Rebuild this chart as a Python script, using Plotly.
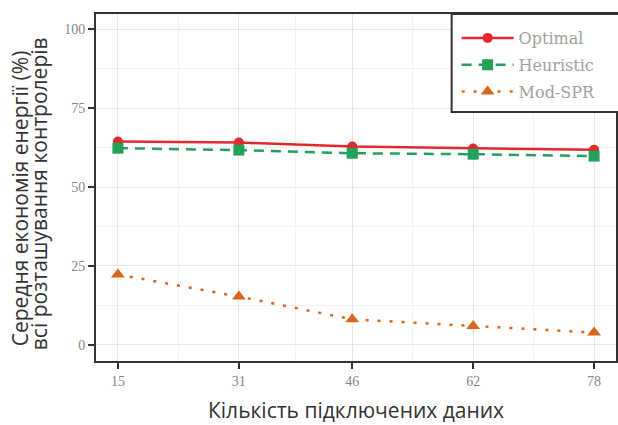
import plotly.graph_objects as go

x_vals = [15, 31, 46, 62, 78]
optimal = [64.4, 64.1, 62.8, 62.2, 61.8]
heuristic = [62.3, 61.7, 60.7, 60.4, 59.8]
mod_spr = [22.3, 15.3, 8.1, 6.0, 3.9]
y_ticks = [0, 25, 50, 75, 100]

x_title = "Кількість підключених даних"
y_title_1 = "Середня економія енергії (%)"
y_title_2 = "всі розташування контролерів"

W, H = 618, 425
L, R, T, B = 96, 0, 14, 64
PW, PH = W - L - R, H - T - B


def px_x(p):
    return (p - L) / PW


def px_y(p):
    return ((H - B) - p) / PH


fig = go.Figure()
fig.add_trace(go.Scatter(x=x_vals, y=optimal, name="Optimal", mode="lines+markers",
                         legendgroup="a",
                         line=dict(color="#e3292d", width=2.5),
                         marker=dict(symbol="circle", size=10, color="#e3292d")))
fig.add_trace(go.Scatter(x=x_vals, y=heuristic, name="Heuristic", mode="lines+markers",
                         legendgroup="b",
                         line=dict(color="#23a05a", width=2.5, dash="10px,7px"),
                         marker=dict(symbol="square", size=11, color="#23a05a")))
fig.add_trace(go.Scatter(x=x_vals, y=mod_spr, name="Mod-SPR", mode="lines+markers",
                         legendgroup="c",
                         line=dict(color="#d9661a", width=2.5, dash="3px,9px"),
                         marker=dict(symbol="triangle-up", size=12, color="#d9661a")))

tick_font = dict(family="Liberation Serif", size=14, color="#858585")

fig.update_layout(
    width=W, height=H,
    margin=dict(l=L, r=R, t=T, b=B),
    paper_bgcolor="white", plot_bgcolor="white",
    showlegend=True,
    legend=dict(x=px_x(458), y=px_y(21), xanchor="left", yanchor="top",
                bgcolor="rgba(0,0,0,0)", borderwidth=0,
                font=dict(family="DejaVu Serif", size=16, color="#a0a0a0"),
                itemwidth=52, tracegroupgap=3),
    xaxis=dict(range=[12.1, 80.9], tickmode="array", tickvals=x_vals,
               ticktext=[str(v) for v in x_vals],
               showgrid=True, gridcolor="#e6e6e6", gridwidth=1,
               minor=dict(tickmode="array", tickvals=[23, 38.5, 54, 70], showgrid=True,
                          gridcolor="#f2f2f2", gridwidth=1, ticks=""),
               showline=True, linecolor="#333333", linewidth=2, mirror=True,
               ticks="outside", ticklen=6, tickwidth=1.5, tickcolor="#333333",
               tickfont=tick_font, zeroline=False),
    yaxis=dict(range=[-5.1, 104.8], tickmode="array", tickvals=y_ticks,
               showgrid=True, gridcolor="#e6e6e6", gridwidth=1,
               minor=dict(tickmode="array", tickvals=[12.5, 37.5, 62.5, 87.5], showgrid=True,
                          gridcolor="#f2f2f2", gridwidth=1, ticks=""),
               showline=True, linecolor="#333333", linewidth=2, mirror=True,
               ticks="outside", ticklen=6, tickwidth=1.5, tickcolor="#333333",
               tickfont=tick_font, zeroline=False),
    shapes=[dict(type="rect", xref="paper", yref="paper",
                 x0=px_x(453), x1=px_x(630), y0=px_y(112), y1=1,
                 line=dict(color="#333333", width=2), fillcolor="white", layer="above")],
)

title_font = dict(family="Open Sans", size=21, color="#333333")
fig.add_annotation(text=x_title, xref="paper", yref="paper",
                   x=0.5, y=px_y(410),
                   xanchor="center", yanchor="middle", showarrow=False, font=title_font)
fig.add_annotation(text=y_title_1, xref="paper", yref="paper",
                   x=px_x(20), y=px_y(198),
                   xanchor="center", yanchor="middle", textangle=-90, showarrow=False, font=title_font)
fig.add_annotation(text=y_title_2, xref="paper", yref="paper",
                   x=px_x(39), y=px_y(194),
                   xanchor="center", yanchor="middle", textangle=-90, showarrow=False, font=title_font)

fig.write_html("out.html")
